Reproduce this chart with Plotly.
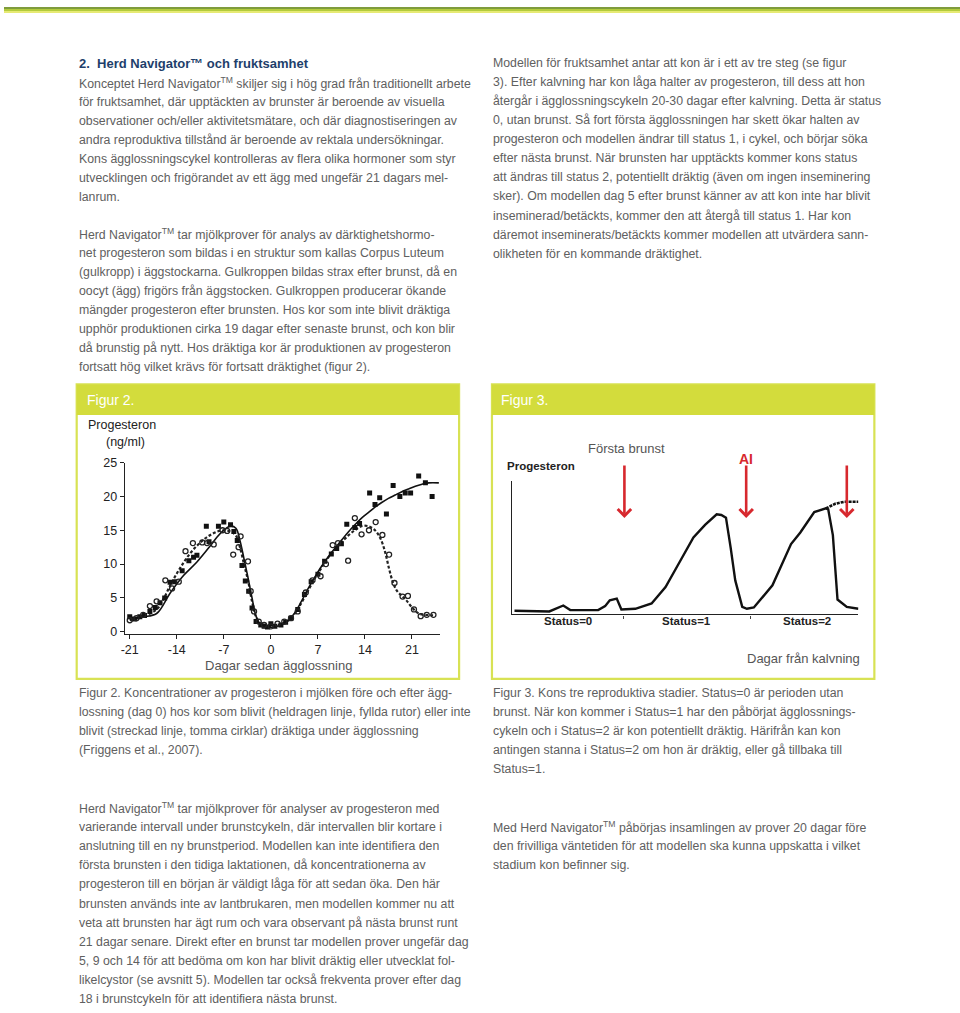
import plotly.graph_objects as go

W, H = 960, 1013

# ---------------- data: figur 2 (progesteron, ng/ml) ----------------
day_ticks = [-21, -14, -7, 0, 7, 14, 21]
prog_ticks = [0, 5, 10, 15, 20, 25]

solid_x = [-21, -19, -17, -15, -13, -11, -9, -8, -7, -6, -5.2, -4.6, -4.0, -3.4, -2.8, -2.2, -1.5,
           -0.5, 0.5, 1.5, 2.5, 3.5, 4.5, 5.5, 6.5, 7.5, 8.5, 9.5, 10.5, 11.5, 12.5, 13.5, 14.5,
           15.5, 16.5, 17.5, 18.5, 19.5, 20.5, 21.5, 22.5, 23.5, 25.0]
solid_y = [1.9, 2.2, 2.7, 5.7, 8.3, 10.3, 12.7, 14.0, 15.0, 15.6, 15.3, 13.5, 10.8, 8.0, 5.0, 2.3, 1.0,
           0.7, 0.7, 1.0, 1.6, 2.7, 4.4, 6.3, 8.0, 9.6, 11.0, 12.3, 13.5, 14.7, 15.8, 16.8, 17.6,
           18.4, 19.1, 19.7, 20.2, 20.7, 21.1, 21.5, 21.8, 22.0, 22.0]

dash_x = [-21, -19, -17, -16, -15, -14, -13, -12, -11, -10, -9, -8, -7, -6, -5.2, -4.6, -4.0, -3.4,
          -2.8, -2.2, -1.5, -0.5, 0.5, 1.5, 2.5, 3.5, 4.5, 5.5, 6.5, 7.5, 8.5, 9.5, 10.5, 11.5,
          12.5, 13.5, 14.5, 15.5, 16.3, 17.0, 17.6, 18.2, 18.8, 19.5, 20.2, 21.0, 22.0, 23.0, 24.5]
dash_y = [1.7, 2.3, 3.3, 4.8, 6.8, 8.6, 10.2, 11.6, 12.7, 13.6, 14.3, 14.8, 15.0, 14.8, 14.2, 12.5, 10.0, 7.6,
          4.5, 2.2, 1.2, 0.9, 0.9, 1.1, 1.6, 2.6, 4.2, 6.0, 7.8, 9.4, 10.9, 12.1, 13.2, 14.2,
          15.0, 15.6, 15.6, 15.0, 13.8, 11.8, 9.3, 7.2, 6.0, 5.3, 4.6, 3.6, 2.7, 2.5, 2.4]

sq_x = [-21, -20.3, -19.5, -18.8, -18, -17.2, -16.5, -15.8, -15, -14.3, -13.2, -12.2, -11.5, -11, -9.6,
        -9.2, -7.8, -7, -6, -5.5, -5, -4.3, -3.8, -3.3, -2.8, -2.2, -1.5, -1, -0.5, 0, 0.6, 1.5, 2.2, 3,
        4, 5, 6, 7, 8, 9, 9.8, 10.5, 11.3, 12.5, 13.2, 14.7, 15.5, 16.2, 17.2, 18.2, 19.2, 20, 20.8,
        22, 23, 24]
sq_y = [2.2, 1.9, 2.2, 2.4, 3.0, 3.6, 4.3, 5.0, 7.3, 7.4, 9.0, 10.5, 11.0, 11.3, 15.6,
        13.3, 15.6, 16.2, 15.8, 14.8, 13.5, 9.8, 7.5, 6.0, 3.5, 1.5, 1.0, 0.8, 0.7, 1.2, 0.8, 1.0, 1.4, 2.0,
        3.3, 5.5, 7.4, 8.5, 10.4, 11.5, 12.3, 13.0, 15.9, 15.4, 16.0, 20.5, 18.8, 19.8, 17.4, 21.6, 20.0, 20.5, 20.5,
        23.0, 22.0, 20.0]

ci_x = [-21, -20, -19, -18, -17, -15.7, -14.7, -13.7, -12.7, -11.6, -10.2, -9.5, -8.5, -7.2, -6.5, -5.6,
        -4.5, -4.8, -3.4, -3.0, -2.5, -1.8, -1, 0, 1, 2, 3, 4, 5.2, 6.2, 7.4, 8.2, 9.2, 10, 11.5, 12.5,
        13.5, 14.6, 15.6, 16.6, 17.6, 18.4, 19.6, 20.4, 21.3, 22.3, 23.2, 24.2]
ci_y = [1.7, 2.0, 2.5, 3.8, 4.5, 7.6, 6.4, 7.4, 11.9, 13.1, 13.2, 13.1, 12.9, 15.0, 14.9, 11.4,
        14.1, 12.5, 10.4, 6.0, 3.0, 1.5, 1.0, 0.8, 1.2, 1.5, 2.0, 3.0, 5.8, 7.6, 8.2, 10.0, 12.8, 13.1, 10.5, 16.8,
        14.4, 15.0, 16.2, 14.3, 11.4, 7.2, 5.2, 5.3, 3.3, 2.3, 2.5, 2.5]

# ---------------- data: figur 3 (schematisk progesteron) ----------------
f3_x = [1, 16, 22, 25, 37, 40, 42, 45, 47, 53, 60, 66, 72, 78, 83, 88, 90, 92, 94, 96, 99, 101, 104,
        112, 120, 124, 130, 135, 136, 138, 140, 144, 149]
f3_y = [11, 9, 27, 13, 13, 25, 43, 48, 15, 17, 33, 83, 158, 233, 271, 303, 301, 293, 203, 103, 23, 17, 21,
        88, 213, 248, 310, 321, 318, 240, 45, 23, 17]
f3_dot_x = [135, 139, 143, 149]
f3_dot_y = [321, 335, 341, 341]
status_bounds = [48, 102.6]
status_days = [24, 75, 127]
status_labels = ["Status=0", "Status=1", "Status=2"]
arrow_days = [48.3, 100.7, 144]

# ---------------- text ----------------
heading = "2.  Herd Navigator™ och fruktsamhet"
left_a = [
    "Konceptet Herd Navigator<sup>TM</sup> skiljer sig i hög grad från traditionellt arbete",
    "för fruktsamhet, där upptäckten av brunster är beroende av visuella",
    "observationer och/eller aktivitetsmätare, och där diagnostiseringen av",
    "andra reproduktiva tillstånd är beroende av rektala undersökningar.",
    "Kons ägglossningscykel kontrolleras av flera olika hormoner som styr",
    "utvecklingen och frigörandet av ett ägg med ungefär 21 dagars mel-",
    "lanrum.",
]
left_b = [
    "Herd Navigator<sup>TM</sup> tar mjölkprover för analys av därktighetshormo-",
    "net progesteron som bildas i en struktur som kallas Corpus Luteum",
    "(gulkropp) i äggstockarna. Gulkroppen bildas strax efter brunst, då en",
    "oocyt (ägg) frigörs från äggstocken. Gulkroppen producerar ökande",
    "mängder progesteron efter brunsten. Hos kor som inte blivit dräktiga",
    "upphör produktionen cirka 19 dagar efter senaste brunst, och kon blir",
    "då brunstig på nytt. Hos dräktiga kor är produktionen av progesteron",
    "fortsatt hög vilket krävs för fortsatt dräktighet (figur 2).",
]
right_a = [
    "Modellen för fruktsamhet antar att kon är i ett av tre steg (se figur",
    "3). Efter kalvning har kon låga halter av progesteron, till dess att hon",
    "återgår i ägglossningscykeln 20-30 dagar efter kalvning. Detta är status",
    "0, utan brunst. Så fort första ägglossningen har skett ökar halten av",
    "progesteron och modellen ändrar till status 1, i cykel, och börjar söka",
    "efter nästa brunst. När brunsten har upptäckts kommer kons status",
    "att ändras till status 2, potentiellt dräktig (även om ingen inseminering",
    "sker). Om modellen dag 5 efter brunst känner av att kon inte har blivit",
    "inseminerad/betäckts, kommer den att återgå till status 1. Har kon",
    "däremot inseminerats/betäckts kommer modellen att utvärdera sann-",
    "olikheten för en kommande dräktighet.",
]
cap2 = [
    "Figur 2. Koncentrationer av progesteron i mjölken före och efter ägg-",
    "lossning (dag 0) hos kor som blivit (heldragen linje, fyllda rutor) eller inte",
    "blivit (streckad linje, tomma cirklar) dräktiga under ägglossning",
    "(Friggens et al., 2007).",
]
cap3 = [
    "Figur 3. Kons tre reproduktiva stadier. Status=0 är perioden utan",
    "brunst. När kon kommer i Status=1 har den påbörjat ägglossnings-",
    "cykeln och i Status=2 är kon potentiellt dräktig. Härifrån kan kon",
    "antingen stanna i Status=2 om hon är dräktig, eller gå tillbaka till",
    "Status=1.",
]
bottom_left = [
    "Herd Navigator<sup>TM</sup> tar mjölkprover för analyser av progesteron med",
    "varierande intervall under brunstcykeln, där intervallen blir kortare i",
    "anslutning till en ny brunstperiod. Modellen kan inte identifiera den",
    "första brunsten i den tidiga laktationen, då koncentrationerna av",
    "progesteron till en början är väldigt låga för att sedan öka. Den här",
    "brunsten används inte av lantbrukaren, men modellen kommer nu att",
    "veta att brunsten har ägt rum och vara observant på nästa brunst runt",
    "21 dagar senare. Direkt efter en brunst tar modellen prover ungefär dag",
    "5, 9 och 14 för att bedöma om kon har blivit dräktig eller utvecklat fol-",
    "likelcystor (se avsnitt 5). Modellen tar också frekventa prover efter dag",
    "18 i brunstcykeln för att identifiera nästa brunst.",
]
bottom_right = [
    "Med Herd Navigator<sup>TM</sup> påbörjas insamlingen av prover 20 dagar före",
    "den frivilliga väntetiden för att modellen ska kunna uppskatta i vilket",
    "stadium kon befinner sig.",
]


def px(x):
    return x / W


def py(y):
    return 1 - y / H


FONT = "Liberation Sans"
TXT = "#606060"
GREEN = "#d3dc3c"
BORDER = "#d8e254"
LH = 19.25

fig = go.Figure()

# figur 2 traces
fig.add_trace(go.Scatter(x=dash_x, y=dash_y, mode="lines", line=dict(color="#222", width=2.2, dash="3px,2px"),
                         line_shape="spline", xaxis="x", yaxis="y", hoverinfo="skip"))
fig.add_trace(go.Scatter(x=solid_x, y=solid_y, mode="lines", line=dict(color="#111", width=1.6),
                         line_shape="spline", xaxis="x", yaxis="y", hoverinfo="skip"))
fig.add_trace(go.Scatter(x=sq_x, y=sq_y, mode="markers", marker=dict(symbol="square", size=5, color="#111"),
                         xaxis="x", yaxis="y", hoverinfo="skip"))
fig.add_trace(go.Scatter(x=ci_x, y=ci_y, mode="markers",
                         marker=dict(symbol="circle-open", size=5, color="#222", line=dict(width=1.3)),
                         xaxis="x", yaxis="y", hoverinfo="skip"))

# figur 3 traces
fig.add_trace(go.Scatter(x=f3_dot_x, y=f3_dot_y, mode="lines", line=dict(color="#111", width=2.6, dash="3px,1px"),
                         xaxis="x2", yaxis="y2", hoverinfo="skip"))
fig.add_trace(go.Scatter(x=f3_x, y=f3_y, mode="lines", line=dict(color="#111", width=2.4),
                         xaxis="x2", yaxis="y2", hoverinfo="skip"))

shapes = [
    # top stripe
    dict(type="rect", xref="paper", yref="paper", x0=0, x1=1, y0=py(2), y1=py(0), fillcolor="#7f9c3c", line_width=0),
    dict(type="rect", xref="paper", yref="paper", x0=0, x1=1, y0=py(4), y1=py(2), fillcolor="#b3cb3d", line_width=0),
    dict(type="rect", xref="paper", yref="paper", x0=0, x1=1, y0=py(6), y1=py(4), fillcolor="#e6ea74", line_width=0),
]
for x0, x1 in [(73, 457), (490, 874)]:
    shapes.append(dict(type="rect", xref="paper", yref="paper", x0=px(x0), x1=px(x1), y0=py(680), y1=py(382),
                       line=dict(color=BORDER, width=2.2), fillcolor="rgba(0,0,0,0)", layer="below"))
    shapes.append(dict(type="rect", xref="paper", yref="paper", x0=px(x0), x1=px(x1), y0=py(413), y1=py(382),
                       line_width=0, fillcolor=GREEN, layer="below"))

ann = []


def txt(x, y, s, size=12.3, color=TXT, bold=False, anchor="left"):
    ann.append(dict(x=px(x), y=py(y), xref="paper", yref="paper", text=("<b>%s</b>" % s) if bold else s,
                    showarrow=False, xanchor=anchor, yanchor="middle",
                    font=dict(family=FONT, size=size, color=color)))


def block(x, y0, lines):
    for i, s in enumerate(lines):
        txt(x, y0 + i * LH, s)


txt(73, 57, heading, size=13, color="#1e3f6b", bold=True)
block(73, 76.5, left_a)
block(73, 230, left_b)
block(489, 57, right_a)
block(73, 694, cap2)
block(489, 694, cap3)
block(73, 811, bottom_left)
block(489, 830, bottom_right)

txt(81, 398, "Figur 2.", size=14, color="white")
txt(497, 398, "Figur 3.", size=14, color="white")

# figur 2 labels
txt(82, 423, "Progesteron", size=12.5, color="#222")
txt(100, 440, "(ng/ml)", size=12.5, color="#222")
txt(276, 666, "Dagar sedan ägglossning", size=13, color="#555", anchor="center")

# figur 3 labels
txt(503, 464, "Progesteron", size=11.5, color="#222", bold=True)
txt(625, 447, "Första brunst", size=13, color="#555", anchor="center")
txt(803, 659, "Dagar från kalvning", size=13, color="#555", anchor="center")
for d, s in zip(status_days, status_labels):
    ann.append(dict(x=d, y=py(621), xref="x2", yref="paper", text="<b>%s</b>" % s, showarrow=False,
                    xanchor="center", yanchor="middle", font=dict(family=FONT, size=11.5, color="#222")))
ann.append(dict(x=arrow_days[1], y=py(457), xref="x2", yref="paper", text="<b>AI</b>", showarrow=False,
                xanchor="center", yanchor="middle", font=dict(family=FONT, size=14, color="#d7282e")))
for d in arrow_days:
    ann.append(dict(x=d, y=py(517), xref="x2", yref="paper", ax=0, ay=-54, axref="pixel", ayref="pixel",
                    showarrow=True, arrowhead=4, arrowsize=1, arrowwidth=2.6, arrowcolor="#d7282e", text=""))

fig.update_layout(
    width=W, height=H, margin=dict(l=0, r=0, t=0, b=0),
    paper_bgcolor="white", plot_bgcolor="white", showlegend=False, hovermode=False,
    shapes=shapes, annotations=ann,
    xaxis=dict(domain=[px(121.2), px(438)], range=[-21.75, 25.2], tickvals=day_ticks,
               ticktext=[str(t) for t in day_ticks], showgrid=False, zeroline=False, showline=True,
               linecolor="#222", linewidth=1.2, ticks="outside", ticklen=4, tickcolor="#222",
               tickfont=dict(family=FONT, size=12.5, color="#222"), anchor="y"),
    yaxis=dict(domain=[py(634.3), py(461)], range=[-0.3, 25], tickvals=prog_ticks, showgrid=False,
               zeroline=False, showline=True, linecolor="#222", linewidth=1.2, ticks="outside", ticklen=4,
               tickcolor="#222", tickfont=dict(family=FONT, size=12.5, color="#222"), anchor="x"),
    xaxis2=dict(domain=[px(510.3), px(858)], range=[0, 149], tickvals=status_bounds, showticklabels=False,
                showgrid=False, zeroline=False, showline=True, linecolor="#222", linewidth=1.2,
                ticks="outside", ticklen=3, tickcolor="#444", anchor="y2"),
    yaxis2=dict(domain=[py(614.7), py(480)], range=[0, 403], showticklabels=False, showgrid=False,
                zeroline=False, showline=True, linecolor="#222", linewidth=1.2, ticks="", anchor="x2"),
)

# drop the browser's default body margin so the 960x1013 figure fills the window exactly
page_css = ("document.body.style.margin='0';document.body.style.overflow='hidden';"
            "document.documentElement.style.overflow='hidden';")
fig.write_html("out.html", post_script=page_css, config={"displayModeBar": False})
